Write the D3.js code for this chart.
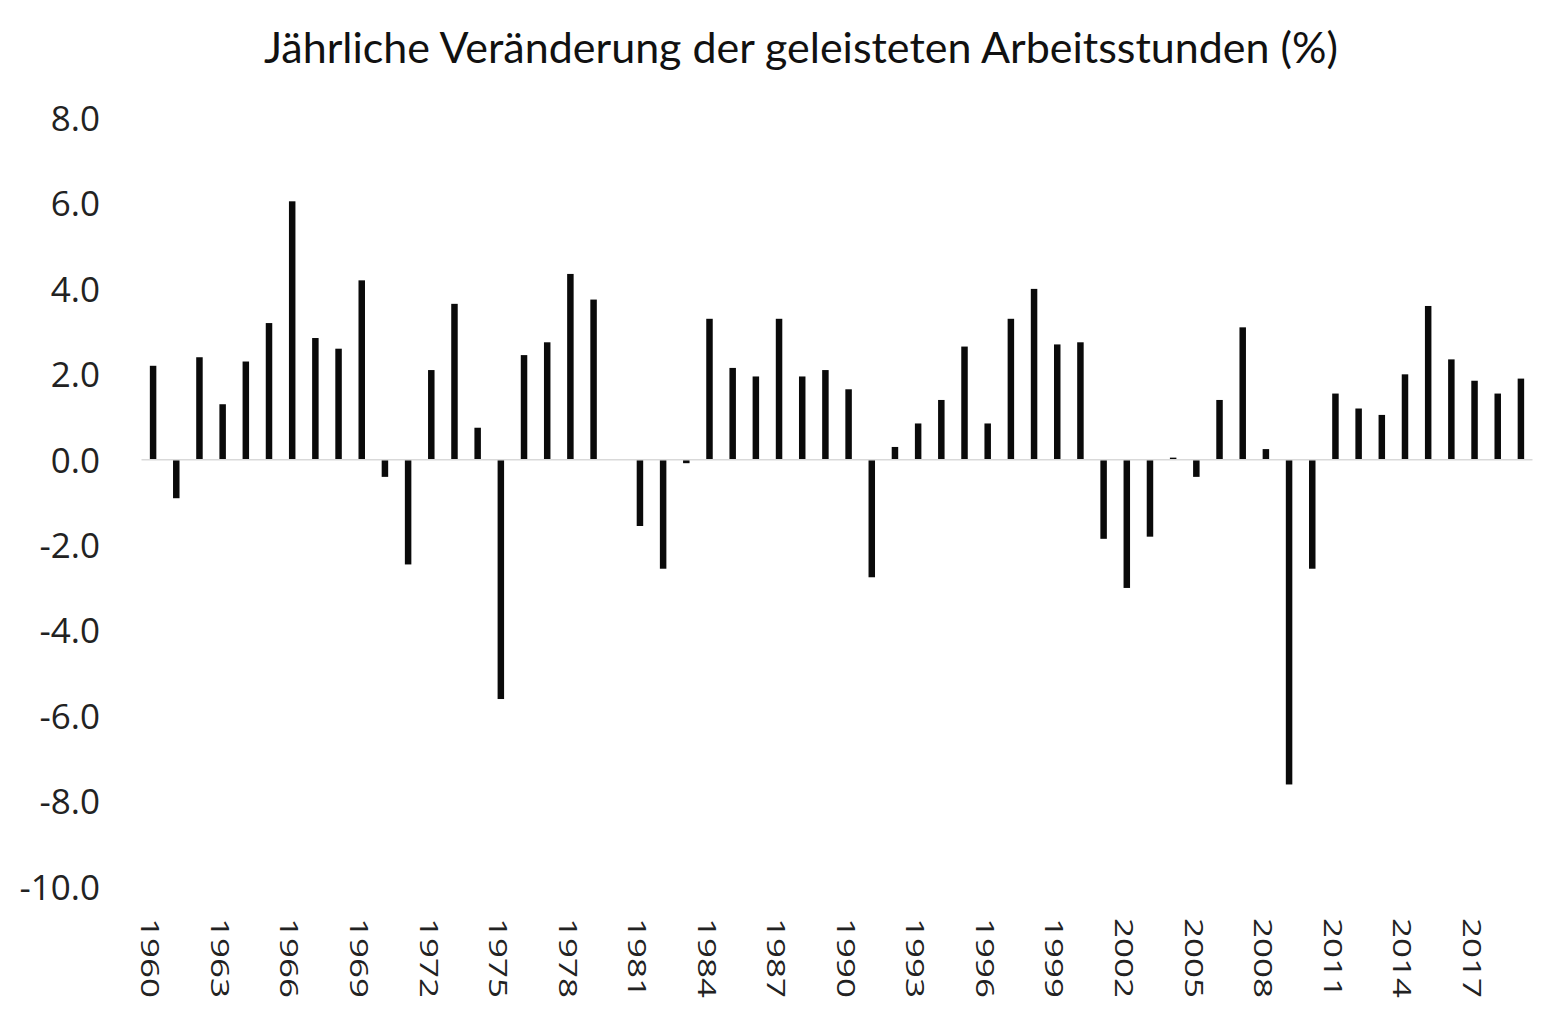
<!DOCTYPE html>
<html>
<head>
<meta charset="utf-8">
<script src="https://cdn.jsdelivr.net/npm/d3@7"></script>
<style>
  body { margin: 0; background: #fff; }
  svg { display: block; }
</style>
</head>
<body>
<svg></svg>
<script>
const width = 1557, height = 1010;

const title = "Jährliche Veränderung der geleisteten Arbeitsstunden (%)";

const years = d3.range(1960, 2020);

const values = [
  2.2, -0.9, 2.4, 1.3, 2.3, 3.2, 6.05, 2.85, 2.6, 4.2,
  -0.4, -2.45, 2.1, 3.65, 0.75, -5.6, 2.45, 2.75, 4.35, 3.75,
  0.0, -1.55, -2.55, -0.08, 3.3, 2.15, 1.95, 3.3, 1.95, 2.1,
  1.65, -2.75, 0.3, 0.85, 1.4, 2.65, 0.85, 3.3, 4.0, 2.7,
  2.75, -1.85, -3.0, -1.8, 0.05, -0.4, 1.4, 3.1, 0.25, -7.6,
  -2.55, 1.55, 1.2, 1.05, 2.0, 3.6, 2.35, 1.85, 1.55, 1.9
];

const yTicks = [8, 6, 4, 2, 0, -2, -4, -6, -8, -10];
const xTickYears = d3.range(1960, 2020, 3);

const svg = d3.select("svg")
    .attr("width", width)
    .attr("height", height);

const x = d3.scaleBand()
    .domain(years)
    .range([141.5, 1532.5])
    .paddingInner(0.72)
    .paddingOuter(0.36);

const y = d3.scaleLinear()
    .domain([-10, 8])
    .range([887, 118]);

svg.append("text")
    .attr("x", 801)
    .attr("y", 63)
    .attr("text-anchor", "middle")
    .attr("font-family", "Lato, 'Open Sans', sans-serif")
    .attr("font-size", 43)
    .attr("fill", "#111")
    .text(title);

// y axis labels, no line; plain hyphen as minus like the original
const yAxis = d3.axisLeft(y)
    .tickValues(yTicks)
    .tickFormat(d => d.toFixed(1))
    .tickSize(0)
    .tickPadding(0);

svg.append("g")
    .attr("transform", "translate(100,0)")
    .call(yAxis)
    .call(g => g.select(".domain").remove())
    .call(g => g.selectAll("text")
        .attr("font-family", "'Open Sans', sans-serif")
        .attr("font-size", 35)
        .attr("fill", "#222")
        .attr("dy", "0.35em"));

// bars
svg.append("g")
    .selectAll("rect")
    .data(years.map((yr, i) => ({ yr, v: values[i] })))
    .join("rect")
    .attr("x", d => x(d.yr))
    .attr("width", x.bandwidth())
    .attr("y", d => y(Math.max(0, d.v)))
    .attr("height", d => Math.abs(y(d.v) - y(0)))
    .attr("fill", "#0a0a0a");

// zero line
svg.append("line")
    .attr("x1", x.range()[0])
    .attr("x2", x.range()[1])
    .attr("y1", y(0))
    .attr("y2", y(0))
    .attr("stroke", "#d9d9d9")
    .attr("stroke-width", 1.5);

// x labels, rotated clockwise
const xAxis = svg.append("g");
xAxis.selectAll("text")
    .data(xTickYears)
    .join("text")
    .attr("transform", d => `translate(${x(d) + x.bandwidth() / 2 - 3},918) rotate(90) scale(1.4,1)`)
    .attr("dy", "0.35em")
    .attr("font-family", "'Open Sans', sans-serif")
    .attr("font-size", 25)
    .attr("fill", "#222")
    .text(d => d);
</script>
</body>
</html>
